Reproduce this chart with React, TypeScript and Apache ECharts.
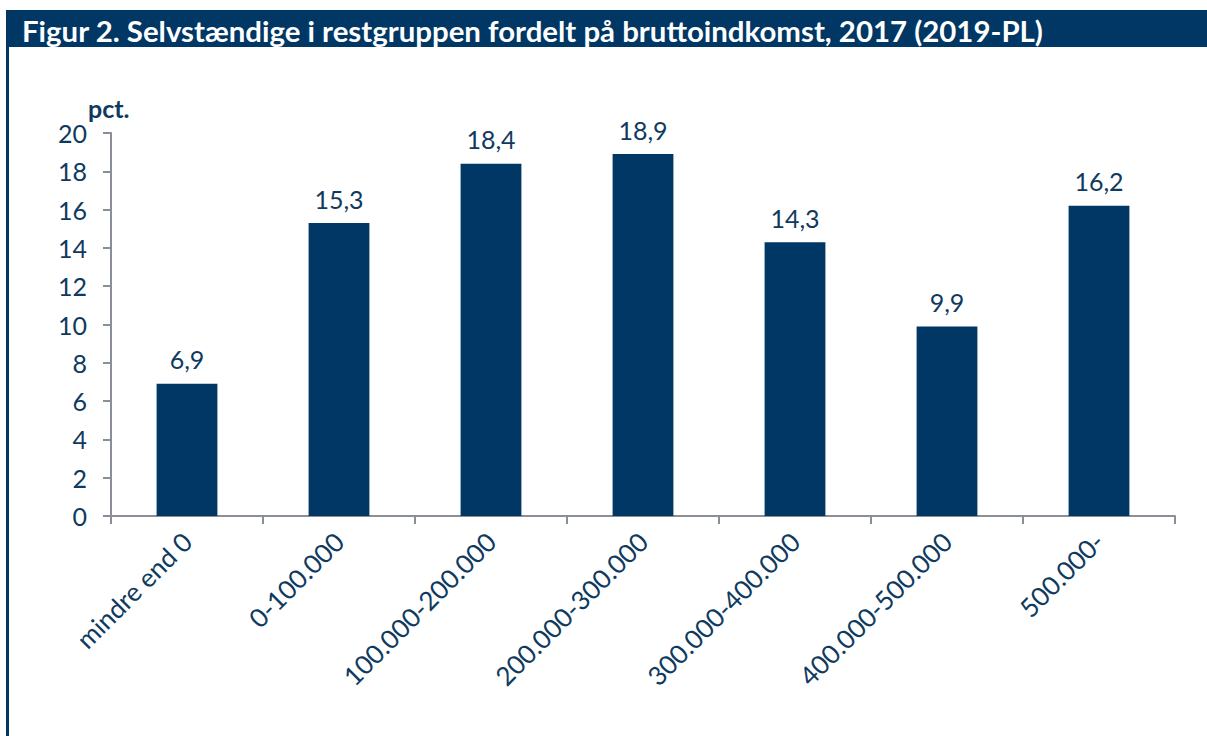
import React, { useEffect, useRef } from "react";
import * as echarts from "echarts";

const categories = [
  "mindre end 0",
  "0-100.000",
  "100.000-200.000",
  "200.000-300.000",
  "300.000-400.000",
  "400.000-500.000",
  "500.000-",
];
const values = [6.9, 15.3, 18.4, 18.9, 14.3, 9.9, 16.2];
const titleText = "Figur 2. Selvstændige i restgruppen fordelt på bruttoindkomst, 2017 (2019-PL)";
const unitText = "pct.";

const NAVY = "#003764";
const TEXT = "#0f3a60";
const AXIS = "#8a8e98";
const FONT = "Lato, 'Noto Sans', sans-serif";

export default function App() {
  const ref = useRef<HTMLDivElement>(null);
  useEffect(() => {
    if (!ref.current) return;
    const chart = echarts.init(ref.current, null, { renderer: "svg" });
    chart.setOption({
      animation: false,
      backgroundColor: "#ffffff",
      textStyle: { fontFamily: FONT },
      grid: { left: 111, right: 32, top: 133, bottom: 220, containLabel: false },
      xAxis: {
        type: "category",
        data: categories,
        axisLine: { show: true, lineStyle: { color: AXIS, width: 2 } },
        axisTick: { show: true, alignWithLabel: false, length: 8, lineStyle: { color: AXIS, width: 2 } },
        axisLabel: {
          rotate: 45,
          interval: 0,
          margin: 21,
          color: TEXT,
          fontSize: 26,
          fontFamily: FONT,
        },
      },
      yAxis: {
        type: "value",
        min: 0,
        max: 20,
        interval: 2,
        splitLine: { show: false },
        axisLine: { show: true, lineStyle: { color: AXIS, width: 2 } },
        axisTick: { show: true, length: 8, lineStyle: { color: AXIS, width: 2 } },
        axisLabel: { color: TEXT, fontSize: 25, fontFamily: FONT, margin: 24 },
      },
      series: [
        {
          type: "bar",
          data: values,
          barWidth: "40%",
          itemStyle: { color: NAVY },
          label: {
            show: true,
            position: "top",
            distance: 12,
            color: TEXT,
            fontSize: 25,
            fontFamily: FONT,
            formatter: (p: any) => String(p.value).replace(".", ","),
          },
        },
      ],
      graphic: [
        {
          type: "rect",
          shape: { x: 6, y: 10, width: 1201, height: 37 },
          style: { fill: NAVY },
        },
        {
          type: "rect",
          shape: { x: 6, y: 47, width: 3, height: 689 },
          style: { fill: NAVY },
        },
        {
          type: "text",
          x: 22,
          y: 30,
          style: {
            text: titleText,
            fill: "#ffffff",
            font: `bold 29.4px ${FONT}`,
            textVerticalAlign: "middle",
          },
        },
        {
          type: "text",
          x: 88,
          y: 108,
          style: {
            text: unitText,
            fill: TEXT,
            font: `bold 25px ${FONT}`,
            textAlign: "left",
            textVerticalAlign: "middle",
          },
        },
      ],
    });
    return () => chart.dispose();
  }, []);
  return (
    <div
      ref={ref}
      style={{ position: "fixed", left: 0, top: 0, width: 1207, height: 736 }}
    />
  );
}
